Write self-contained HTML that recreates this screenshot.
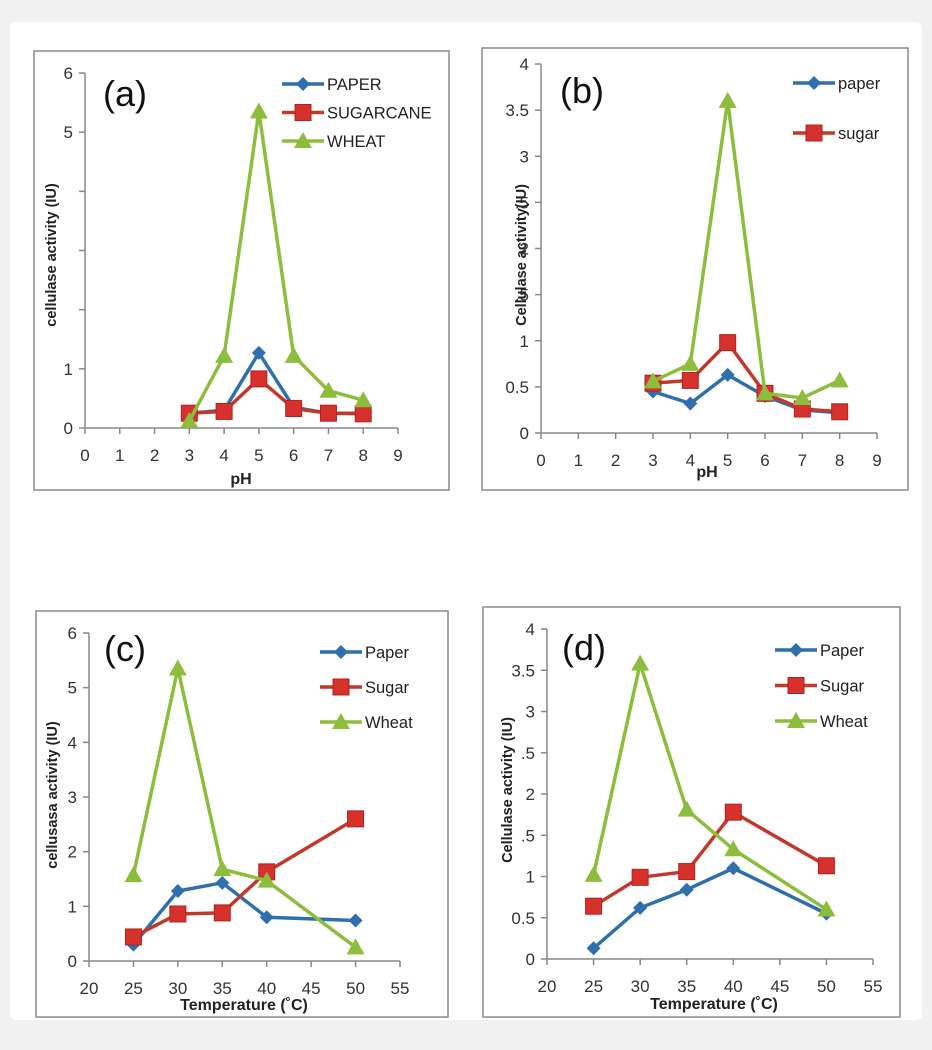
<!DOCTYPE html>
<html><head><meta charset="utf-8"><style>
html,body{margin:0;padding:0;background:#f1f1f1;}
svg{display:block;font-family:"Liberation Sans",sans-serif;}
</style></head><body>
<svg id="fig" width="932" height="1050" viewBox="0 0 932 1050">
<rect x="10" y="22" width="912" height="998" rx="6" fill="#ffffff"/>
</svg>
<script>
// ---- Panel (a) data ----
const aX = [3,4,5,6,7,8];
const aPaper = [0.25,0.3,1.27,0.35,0.25,0.25];
const aSugar = [0.25,0.28,0.83,0.33,0.25,0.24];
const aWheat = [0.12,1.22,5.35,1.22,0.63,0.47];
const aXTicks = [0,1,2,3,4,5,6,7,8,9];
const aYTicks = [0,1,2,3,4,5,6];
const aYLabels = ["0","1","","","","5","6"];
const aLegend = ["PAPER","SUGARCANE","WHEAT"];
// ---- Panel (b) data ----
const bX = [3,4,5,6,7,8];
const bPaper = [0.45,0.32,0.63,0.4,0.25,0.22];
const bSugar = [0.54,0.57,0.98,0.43,0.26,0.23];
const bWheat = [0.56,0.75,3.6,0.43,0.38,0.57];
const bXTicks = [0,1,2,3,4,5,6,7,8,9];
const bYTicks = [0,0.5,1,1.5,2,2.5,3,3.5,4];
const bYLabels = ["0","0.5","1",".5","2",".5","3","3.5","4"];
const bLegend = ["paper","sugar"];
// ---- Panel (c) data ----
const cX = [25,30,35,40,50];
const cPaper = [0.3,1.28,1.43,0.8,0.74];
const cSugar = [0.44,0.86,0.88,1.63,2.6];
const cWheat = [1.57,5.35,1.68,1.47,0.25];
const cXTicks = [20,25,30,35,40,45,50,55];
const cYTicks = [0,1,2,3,4,5,6];
const cYLabels = ["0","1","2","3","4","5","6"];
const cLegend = ["Paper","Sugar","Wheat"];
// ---- Panel (d) data ----
const dX = [25,30,35,40,50];
const dPaper = [0.13,0.62,0.84,1.1,0.55];
const dSugar = [0.64,0.99,1.06,1.78,1.13];
const dWheat = [1.02,3.58,1.81,1.33,0.6];
const dXTicks = [20,25,30,35,40,45,50,55];
const dYTicks = [0,0.5,1,1.5,2,2.5,3,3.5,4];
const dYLabels = ["0","0.5","1",".5","2",".5","3","3.5","4"];
const dLegend = ["Paper","Sugar","Wheat"];

const NS="http://www.w3.org/2000/svg";
const svg=document.getElementById('fig');
const BLUE="#2f6fae", RED="#c4302b", GREEN="#8dbd3c";
function mk(tag,attrs,parent){const e=document.createElementNS(NS,tag);for(const k in attrs)e.setAttribute(k,attrs[k]);(parent||svg).appendChild(e);return e;}
function marker(g,kind,x,y,color){
  let m;
  if(kind==='d'){m=mk('polygon',{points:`${x},${y-7} ${x+7},${y} ${x},${y+7} ${x-7},${y}`,fill:color},g);}
  else if(kind==='s'){m=mk('rect',{x:x-8,y:y-8,width:16,height:16,fill:"#d6312c",stroke:"#b02420","stroke-width":1},g);}
  else {m=mk('polygon',{points:`${x},${y-9} ${x+9},${y+7} ${x-9},${y+7}`,fill:color},g);}
  return m;
}
function panel(p){
  const g=mk('g',{});
  
  
  const fr=mk('rect',{x:p.box[0],y:p.box[1],width:p.box[2]-p.box[0],height:p.box[3]-p.box[1],fill:"#fff",stroke:"#8a8a8a","stroke-width":1.5},g);
  
  
  const sx=v=>p.x0+(v-p.xmin)/(p.xmax-p.xmin)*(p.x1-p.x0);
  const sy=v=>p.y0-(v-p.ymin)/(p.ymax-p.ymin)*(p.y0-p.y1);
  const ax=mk('line',{x1:p.x0,y1:p.y0,x2:p.x1,y2:p.y0,stroke:"#888","stroke-width":1.5},g);
  
  
  const ay=mk('line',{x1:p.x0,y1:p.y0,x2:p.x0,y2:p.y1,stroke:"#888","stroke-width":1.5},g);
  
  
  p.xt.forEach(v=>{
    mk('line',{x1:sx(v),y1:p.y0,x2:sx(v),y2:p.y0+6,stroke:"#888","stroke-width":1.5},g);
    const t=mk('text',{x:sx(v),y:p.y0+33,"text-anchor":"middle","font-size":17,fill:"#333"},g);
    t.textContent=v;
    
    
  });
  p.yt.forEach((v,i)=>{
    mk('line',{x1:p.x0-6,y1:sy(v),x2:p.x0,y2:sy(v),stroke:"#888","stroke-width":1.5},g);
    const t=mk('text',{x:p.x0-12,y:sy(v)+6,"text-anchor":"end","font-size":17,fill:"#333"},g);
    t.textContent=p.yl[i];
    
    
  });
  const xt=mk('text',{x:p.xtitle[0],y:p.xtitle[1],"text-anchor":"middle","font-size":16,"font-weight":"bold",fill:"#222"},g);
  xt.textContent=p.xlabel;
  
  
  const yt=mk('text',{x:0,y:0,"text-anchor":"middle","font-size":14.5,"font-weight":"bold",fill:"#222",transform:`translate(${p.ytitle[0]},${p.ytitle[1]}) rotate(-90)`},g);
  yt.textContent=p.ylabel;
  
  
  const lt=mk('text',{x:p.tag[0],y:p.tag[1],"font-size":36,fill:"#111"},g);
  lt.textContent='('+p.id+')';
  
  
  const kinds=['d','s','t'], cols=[BLUE,RED,GREEN], lcols=[BLUE,"#c0392b",GREEN];
  p.series.forEach((ys,si)=>{
    const pts=p.xs.map((x,i)=>sx(x)+','+sy(ys[i])).join(' ');
    const pl=mk('polyline',{points:pts,fill:"none",stroke:lcols[si],"stroke-width":3.5,"stroke-linejoin":"round"},g);
    
    
    p.xs.forEach((x,i)=>{
      const m=marker(g,kinds[si],sx(x),sy(ys[i]),cols[si]);
      
      
    });
  });
  p.legend.forEach((name,i)=>{
    const y=p.leg[1]+i*p.leg[2];
    const l=mk('line',{x1:p.leg[0],y1:y,x2:p.leg[0]+42,y2:y,stroke:lcols[i],"stroke-width":3.5},g);
    
    
    const m=marker(g,kinds[i],p.leg[0]+21,y,cols[i]);
    
    
    const t=mk('text',{x:p.leg[0]+45,y:y+6,"font-size":16.5,fill:"#222"},g);
    t.textContent=name;
    
    
  });
}
panel({id:'a',box:[34,51,449,490],x0:85,x1:398,y0:428,y1:73,xmin:0,xmax:9,ymin:0,ymax:6,xt:aXTicks,yt:aYTicks,yl:aYLabels,xs:aX,series:[aPaper,aSugar,aWheat],legend:aLegend,leg:[282,84,28.5],xlabel:'pH',xtitle:[241,484],ylabel:'cellulase activity (IU)',ytitle:[56,255],tag:[103,106]});
panel({id:'b',box:[482,48,908,490],x0:541,x1:877,y0:433,y1:64,xmin:0,xmax:9,ymin:0,ymax:4,xt:bXTicks,yt:bYTicks,yl:bYLabels,xs:bX,series:[bPaper,bSugar,bWheat],legend:bLegend,leg:[793,83,50],xlabel:'pH',xtitle:[707,477],ylabel:'Cellulase activity(IU)',ytitle:[526,255],tag:[560,103]});
panel({id:'c',box:[36,611,448,1017],x0:89,x1:400,y0:961,y1:633,xmin:20,xmax:55,ymin:0,ymax:6,xt:cXTicks,yt:cYTicks,yl:cYLabels,xs:cX,series:[cPaper,cSugar,cWheat],legend:cLegend,leg:[320,652,35],xlabel:'Temperature (˚C)',xtitle:[244,1010],ylabel:'cellusasa activity (IU)',ytitle:[57,795],tag:[104,661]});
panel({id:'d',box:[483,607,900,1017],x0:547,x1:873,y0:959,y1:629,xmin:20,xmax:55,ymin:0,ymax:4,xt:dXTicks,yt:dYTicks,yl:dYLabels,xs:dX,series:[dPaper,dSugar,dWheat],legend:dLegend,leg:[775,650,35.5],xlabel:'Temperature (˚C)',xtitle:[714,1009],ylabel:'Cellulase activity (IU)',ytitle:[512,790],tag:[562,660]});
</script>
</body></html>
